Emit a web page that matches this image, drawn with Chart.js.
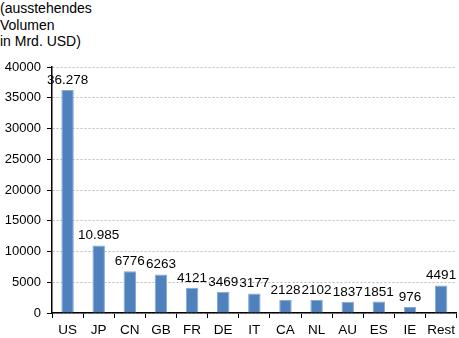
<!DOCTYPE html>
<html><head><meta charset="utf-8">
<script src="https://cdn.jsdelivr.net/npm/chart.js@4"></script>
<style>
html,body{margin:0;padding:0;background:#fff;}
#wrap{position:relative;width:459px;height:338px;}
#title{position:absolute;left:0;top:0px;font:14px "Liberation Sans",Arial,sans-serif;line-height:16.5px;color:#000;}
canvas{position:absolute;left:0;top:0;}
</style></head>
<body>
<div id="wrap">
<div id="title">(ausstehendes<br>Volumen<br>in Mrd. USD)</div>
<canvas id="c" width="459" height="338"></canvas>
</div>
<script>
const categories = ["US","JP","CN","GB","FR","DE","IT","CA","NL","AU","ES","IE","Rest"];
const values = [36278,10985,6776,6263,4121,3469,3177,2128,2102,1837,1851,976,4491];
const valueLabels = ["36.278","10.985","6776","6263","4121","3469","3177","2128","2102","1837","1851","976","4491"];
const yTicks = [0,5000,10000,15000,20000,25000,30000,35000,40000];

const FONT = '"Liberation Sans", Arial, sans-serif';

const labelPlugin = {
  id: 'valueLabels',
  afterDatasetsDraw(chart) {
    const ctx = chart.ctx;
    const meta = chart.getDatasetMeta(0);
    ctx.save();
    ctx.font = '13.5px ' + FONT;
    ctx.fillStyle = '#000';
    ctx.textAlign = 'center';
    ctx.textBaseline = 'alphabetic';
    meta.data.forEach((bar, i) => {
      ctx.fillText(valueLabels[i], bar.x, bar.y - 6);
    });
    ctx.restore();
  }
};

new Chart(document.getElementById('c'), {
  type: 'bar',
  data: {
    labels: categories,
    datasets: [{
      data: values,
      backgroundColor: '#4f81bd',
      borderColor: '#86a8d6',
      borderWidth: 1,
      categoryPercentage: 1,
      barPercentage: 0.4
    }]
  },
  options: {
    responsive: false,
    animation: false,
    devicePixelRatio: 1,
    layout: { padding: { top: 67, right: 0, left: 0, bottom: 0 } },
    plugins: { legend: { display: false }, tooltip: { enabled: false } },
    scales: {
      x: {
        afterFit(scale) { scale.height = 25; },
        grid: { display: true, drawOnChartArea: false, offset: true, tickLength: 5, tickColor: '#000', color: '#000' },
        border: { display: true, color: '#000', width: 1.5 },
        ticks: { color: '#000', font: { family: FONT, size: 13.5 }, padding: 4, maxRotation: 0, autoSkip: false }
      },
      y: {
        min: 0, max: 40000,
        afterBuildTicks(scale) { scale.ticks = yTicks.map(v => ({ value: v })); },
        afterFit(scale) { scale.width = 52; },
        grid: { color: '#bbbbbb', lineWidth: 1, tickLength: 5, tickColor: '#000', tickBorderDash: [] },
        border: { display: true, color: '#000', width: 1.5, dash: [2, 2] },
        ticks: { color: '#000', font: { family: FONT, size: 13 }, padding: 6, callback: (v) => String(v) }
      }
    }
  },
  plugins: [labelPlugin]
});
</script>
</body></html>
